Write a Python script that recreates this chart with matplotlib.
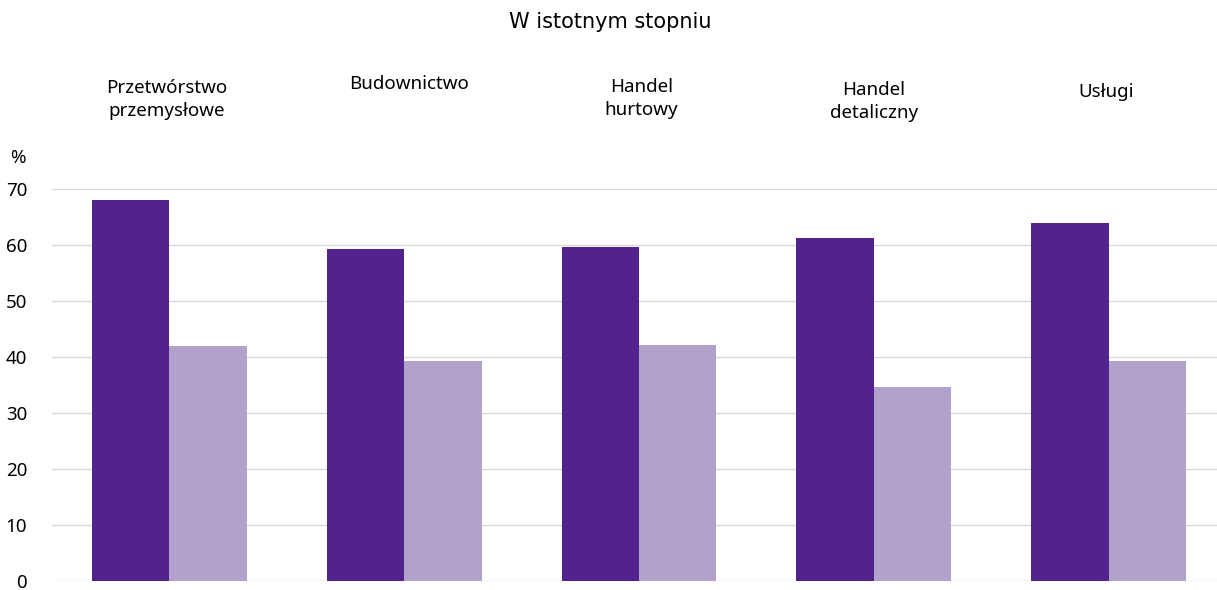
import matplotlib.pyplot as plt
import matplotlib.transforms as mtransforms
import numpy as np

categories = ['Przetwórstwo\nprzemysłowe', 'Budownictwo', 'Handel\nhurtowy',
              'Handel\ndetaliczny', 'Usługi']
series_dark = [68.0, 59.3, 59.6, 61.2, 63.9]
series_light = [41.9, 39.2, 42.1, 34.6, 39.2]
yticks = [0, 10, 20, 30, 40, 50, 60, 70]

dark = '#52238F'
light = '#B3A1CD'

plt.rcParams['font.family'] = ['Noto Sans', 'DejaVu Sans']

fig = plt.figure(figsize=(12.17, 5.9), dpi=100)
ax = fig.add_axes([52/1217, 9/590, 1174/1217, 392/590])

x = np.arange(len(categories))
w = 0.33
ax.bar(x - w/2, series_dark, width=w, color=dark, zorder=2)
ax.bar(x + w/2, series_light, width=w, color=light, zorder=2)

ax.set_xlim(-0.5, len(categories) - 0.5)
ax.set_ylim(0, 70)
ax.set_yticks(yticks)
ax.set_xticks([])
ax.grid(axis='y', color='#d9d9d9', linewidth=1, zorder=0)
ax.tick_params(axis='y', length=0, pad=18, labelsize=13.5)
for s in ax.spines.values():
    s.set_visible(False)

# category labels above the plot (tops differ slightly, as in the original)
trans = mtransforms.blended_transform_factory(ax.transData, fig.transFigure)
label_top = [79, 75, 78, 81, 83]
label_dx = [-0.01, 0.02, 0.01, 0.0, -0.01]
for i, c in enumerate(categories):
    ax.text(i + label_dx[i], 1 - label_top[i]/590, c, transform=trans,
            ha='center', va='top', fontsize=13.5, linespacing=1.35)

fig.text(18/1217, 1 - 158/590, '%', ha='center', va='center', fontsize=13.5)
fig.text(610/1217, 1 - 22/590, 'W istotnym stopniu', ha='center', va='center', fontsize=15,
         family='DejaVu Sans')

fig.savefig('out.png', dpi=100)
